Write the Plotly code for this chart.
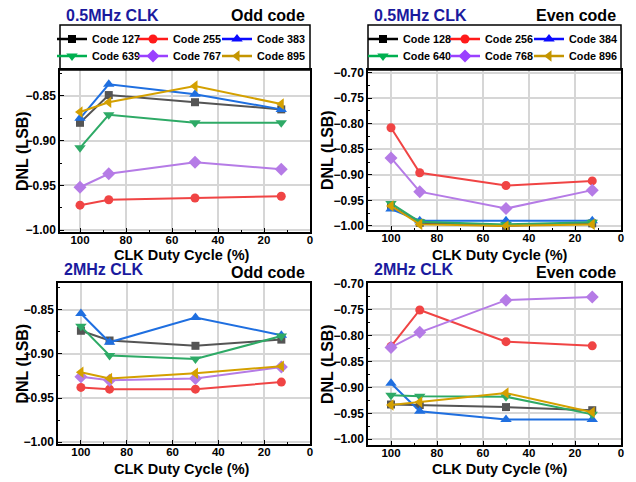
import plotly.graph_objects as go

# The page places the figure 8 px from the top-left corner of the 636x482 window
OFF = 8
W, H = 636 - OFF, 482 - OFF

duty = [100, 87.5, 50, 12.5]

odd_names = ["Code 127", "Code 255", "Code 383", "Code 639", "Code 767", "Code 895"]
even_names = ["Code 128", "Code 256", "Code 384", "Code 640", "Code 768", "Code 896"]

# 0.5 MHz CLK, odd codes
odd05_c127 = [-0.880, -0.849, -0.857, -0.865]
odd05_c255 = [-0.972, -0.966, -0.964, -0.962]
odd05_c383 = [-0.875, -0.837, -0.848, -0.865]
odd05_c639 = [-0.908, -0.871, -0.880, -0.880]
odd05_c767 = [-0.952, -0.937, -0.924, -0.932]
odd05_c895 = [-0.868, -0.857, -0.839, -0.859]

# 0.5 MHz CLK, even codes
even05_c128 = [-0.961, -0.994, -1.000, -0.995]
even05_c256 = [-0.808, -0.896, -0.921, -0.912]
even05_c384 = [-0.967, -0.990, -0.990, -0.990]
even05_c640 = [-0.956, -0.992, -0.997, -0.993]
even05_c768 = [-0.867, -0.933, -0.966, -0.930]
even05_c896 = [-0.961, -0.997, -1.000, -0.997]

# 2 MHz CLK, odd codes
odd2_c127 = [-0.874, -0.885, -0.891, -0.884]
odd2_c255 = [-0.938, -0.940, -0.940, -0.932]
odd2_c383 = [-0.8545, -0.887, -0.859, -0.879]
odd2_c639 = [-0.869, -0.902, -0.906, -0.880]
odd2_c767 = [-0.926, -0.930, -0.928, -0.915]
odd2_c895 = [-0.921, -0.928, -0.922, -0.914]

# 2 MHz CLK, even codes
even2_c128 = [-0.933, -0.934, -0.938, -0.944]
even2_c256 = [-0.821, -0.751, -0.812, -0.820]
even2_c384 = [-0.892, -0.946, -0.962, -0.962]
even2_c640 = [-0.915, -0.917, -0.918, -0.952]
even2_c768 = [-0.823, -0.794, -0.732, -0.726]
even2_c896 = [-0.934, -0.928, -0.911, -0.948]

panel_titles = ["0.5MHz CLK", "0.5MHz CLK", "2MHz CLK", "2MHz CLK"]
panel_codes = ["Odd code", "Even code", "Odd code", "Even code"]
x_title = "CLK Duty Cycle (%)"
y_title = "DNL (LSB)"

panels_data = [
    (odd_names, [odd05_c127, odd05_c255, odd05_c383, odd05_c639, odd05_c767, odd05_c895]),
    (even_names, [even05_c128, even05_c256, even05_c384, even05_c640, even05_c768, even05_c896]),
    (odd_names, [odd2_c127, odd2_c255, odd2_c383, odd2_c639, odd2_c767, odd2_c895]),
    (even_names, [even2_c128, even2_c256, even2_c384, even2_c640, even2_c768, even2_c896]),
]

# styles
line_colors = ["#555555", "#f04444", "#1f6fe0", "#2eaa66", "#b57be6", "#d4a000"]
legend_colors = ["#000000", "#ff1a1a", "#0a0aff", "#00b050", "#9a40ff", "#c49500"]
symbols = ["square", "circle", "triangle-up", "triangle-down", "diamond", "triangle-left"]
msizes = [8, 9, 10, 10, 10, 10]

FONT = "Arial, 'Liberation Sans', sans-serif"

# window-pixel boxes of the plot areas: (left, right, top, bottom)
boxes = [(60, 310, 70, 232), (368, 621, 70, 230), (58, 310, 283, 444), (368, 621, 283, 445)]
xranges = [[108.7, 0], [110, 0], [110, 0], [110, 0]]
yranges = [[-1.002, -0.821], [-1.008, -0.695], [-1.002, -0.82], [-1.011, -0.699]]
title_y = [15, 15, 269, 269]
code_y = [15, 15, 272, 272]
xtitle_pos = [(182, 255), (500, 255), (182, 469), (500, 469)]
ytitle_x = [22, 327, 22, 327]


def px(x):
    return (x - OFF) / W


def py(y):
    return 1 - (y - OFF) / H


fig = go.Figure()
layout = dict(width=W, height=H, margin=dict(l=0, r=0, t=0, b=0, autoexpand=False),
              paper_bgcolor="white", plot_bgcolor="white",
              font=dict(family=FONT, color="black"), showlegend=True)
annotations = []
shapes = []

for i, (names, series) in enumerate(panels_data):
    ax = "" if i == 0 else str(i + 1)
    l, r, t, b = boxes[i]
    axis_common = dict(showline=True, linecolor="black", linewidth=1.5, mirror=True,
                       showgrid=True, gridcolor="#d6d6d6", gridwidth=1.5, zeroline=False,
                       ticks="inside", ticklen=4, tickwidth=1.2, tickcolor="black",
                       minor=dict(ticks="inside", ticklen=2.5, tickwidth=1.2, tickcolor="black", showgrid=False))
    layout["xaxis" + ax] = dict(axis_common, domain=[px(l), px(r)], anchor="y" + ax,
                                range=xranges[i], tick0=0, dtick=20,
                                minor=dict(axis_common["minor"], dtick=10),
                                ticklabelstandoff=-4,
                                tickfont=dict(size=11.5, family=FONT, weight="bold"))
    layout["yaxis" + ax] = dict(axis_common, domain=[py(b), py(t)], anchor="x" + ax,
                                range=yranges[i], tick0=-1.0, dtick=0.05, tickformat=".2f",
                                minor=dict(axis_common["minor"], dtick=0.025),
                                tickfont=dict(size=12, family=FONT, weight="bold"))
    for k, (name, vals) in enumerate(zip(names, series)):
        fig.add_trace(go.Scatter(
            x=duty, y=vals, name=name, mode="lines+markers", showlegend=False,
            xaxis="x" + ax, yaxis="y" + ax,
            line=dict(color=line_colors[k], width=2),
            marker=dict(symbol=symbols[k], size=msizes[k], color=line_colors[k])))
    annotations.append(dict(text=panel_titles[i], xref="paper", yref="paper",
                            x=px(l + 4), y=py(title_y[i]), xanchor="left", yanchor="middle",
                            showarrow=False, font=dict(size=16, color="#1a1a9e", weight="bold")))
    annotations.append(dict(text=panel_codes[i], xref="paper", yref="paper",
                            x=px(r - 3), y=py(code_y[i]), xanchor="right", yanchor="middle",
                            showarrow=False, font=dict(size=16, color="black", weight="bold")))
    annotations.append(dict(text=x_title, xref="paper", yref="paper",
                            x=px(xtitle_pos[i][0]), y=py(xtitle_pos[i][1]),
                            xanchor="center", yanchor="middle", showarrow=False,
                            font=dict(size=14.5, color="black", weight="bold")))
    annotations.append(dict(text=y_title, xref="paper", yref="paper", textangle=-90,
                            x=px(ytitle_x[i]), y=py((t + b) / 2),
                            xanchor="center", yanchor="middle", showarrow=False,
                            font=dict(size=16, color="black", weight="bold")))

# legend boxes and one legend per entry for the top panels
legend_lefts = [[52, 133, 217], [363, 445, 529]]
row_y = [39, 56]
n_leg = 0
for p in range(2):
    names, _ = panels_data[p]
    l, r, t, b = boxes[p]
    ax = "" if p == 0 else str(p + 1)
    shapes.append(dict(type="rect", xref="paper", yref="paper",
                       x0=px(l), x1=px(r), y0=py(t), y1=py(25),
                       line=dict(color="black", width=1.5), fillcolor="rgba(0,0,0,0)"))
    for k in range(6):
        row, col = divmod(k, 3)
        n_leg += 1
        lid = "legend" if n_leg == 1 else "legend%d" % n_leg
        fig.add_trace(go.Scatter(
            x=[None], y=[None], name=names[k], mode="lines+markers", legend=lid,
            xaxis="x" + ax, yaxis="y" + ax, showlegend=True,
            line=dict(color=legend_colors[k], width=2.5),
            marker=dict(symbol=symbols[k], size=msizes[k], color=legend_colors[k])))
        layout[lid] = dict(orientation="h", x=px(legend_lefts[p][col]), y=py(row_y[row]),
                           xanchor="left", yanchor="middle", bgcolor="rgba(0,0,0,0)",
                           borderwidth=0, itemclick=False, itemdoubleclick=False,
                           font=dict(size=10.8, family=FONT, weight="bold", color="black"))

layout["annotations"] = annotations
layout["shapes"] = shapes
fig.update_layout(**layout)
fig.write_html("out.html")
